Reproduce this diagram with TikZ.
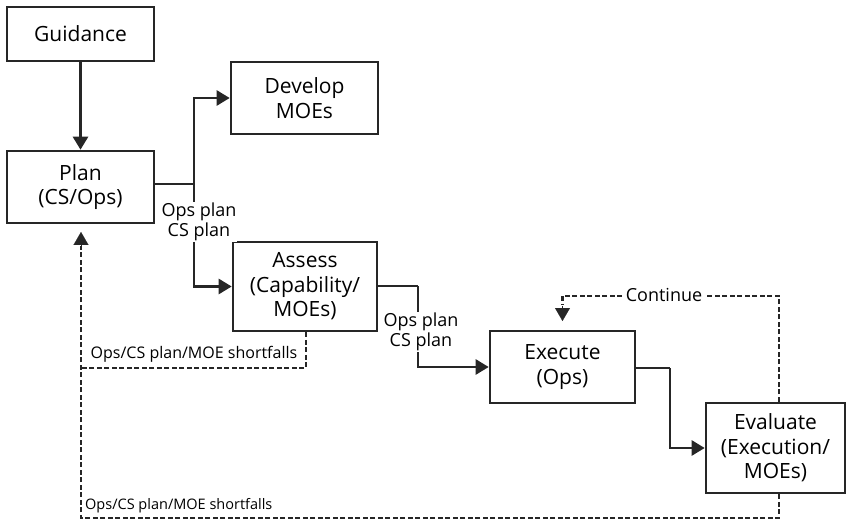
\documentclass[tikz,border=0pt]{standalone}
\usepackage{fontspec}
\setmainfont{Open Sans}
\usetikzlibrary{arrows.meta}
\begin{document}
\begin{tikzpicture}[x=1pt,y=-1pt,
  box/.style={draw=black!85,line width=2.6pt,align=center,inner sep=0pt,
    font=\fontsize{21}{24.5}\selectfont},
  conn/.style={line width=2.6pt,draw=black!85},
  arr/.style={conn,-{Triangle[length=13pt,width=15pt]}},
  tip/.style={-{Triangle[length=13pt,width=15pt]},black!85,line width=0.1pt},
  dsh/.style={line width=2.3pt,draw=black!85,dash pattern=on 5pt off 2.5pt},
  lbl/.style={align=center,inner sep=1pt,fill=white,font=\fontsize{18}{20}\selectfont},
  slbl/.style={inner sep=1pt,font=\fontsize{16}{18}\selectfont}]
\useasboundingbox (0,0) rectangle (847,532);
\node[box,minimum width=147pt,minimum height=54pt] (guid) at (80.5,34) {Guidance};
\node[box,minimum width=147pt,minimum height=72pt] (plan) at (80.5,187) {Plan\\(CS/Ops)};
\node[box,minimum width=147pt,minimum height=72pt] (dev) at (304.5,98) {Develop\\MOEs};
\node[box,minimum width=144pt,minimum height=89pt] (assess) at (305,286.5) {Assess\\(Capability/\\MOEs)};
\node[box,minimum width=145pt,minimum height=72pt] (exec) at (562.5,367) {Execute\\(Ops)};
\node[box,minimum width=139pt,minimum height=90pt] (eval) at (775.5,448) {Evaluate\\(Execution/\\MOEs)};

\draw[arr] (guid.south) -- (plan.north);

\coordinate (j1) at (194,184);
\draw[conn] (plan.east |- j1) -- (j1);
\draw[arr] (j1) |- (dev.west);
\draw[arr] (j1) |- (assess.west);
\node[lbl] (l1) at (199,222) {Ops plan\\CS plan};

\coordinate (j2) at (418,286);
\draw[conn] (assess.east |- j2) -- (j2);
\draw[arr] (j2) |- (exec.west);
\node[lbl] (l2) at (421,332) {Ops plan\\CS plan};

\coordinate (j3) at (670,368);
\draw[conn] (exec.east |- j3) -- (j3);
\draw[arr] (j3) |- (eval.west);

% continue loop
\coordinate (c1) at (779,296);
\coordinate (c2) at (562.5,296);
\coordinate (c3) at (562.5,321);
\draw[dsh] (eval.north -| c1) -- (c1) -- (c2) -- ++(0,9);
\draw[tip] (562.5,306) -- (c3);
\node[fill=white,inner sep=3pt,font=\fontsize{18}{20}\selectfont] (cont) at (664,295) {Continue};

% shortfalls
\coordinate (s1) at (306,368);
\coordinate (s2) at (81,368);
\draw[dsh] (assess.south -| s1) -- (s1) -- (s2);
\coordinate (b1) at (779,518);
\coordinate (b2) at (81,518);
\coordinate (b3) at (81,246);
\coordinate (b4) at (81,232);
\draw[dsh] (eval.south -| b1) -- (b1) -- (b2) -- (b3);
\draw[tip] (b3) -- (b4);
\node[slbl] (sl1) at (194,354) {Ops/CS plan/MOE shortfalls};
\node[slbl,font=\fontsize{14.5}{15}\selectfont,anchor=west] (sl2) at (84,506) {Ops/CS plan/MOE shortfalls};
\end{tikzpicture}
\end{document}
